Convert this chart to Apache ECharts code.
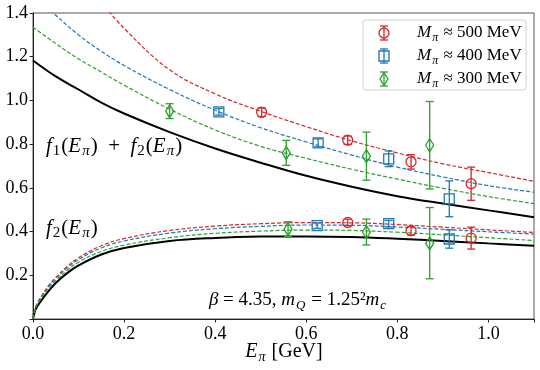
<!DOCTYPE html>
<html><head><meta charset="utf-8">
<script src="https://cdn.jsdelivr.net/npm/echarts@6/dist/echarts.min.js"></script>
<style>html,body{margin:0;padding:0;background:#fff}#c{width:540px;height:370px}</style>
</head><body><div id="c"></div>
<script>
// ---- fit curves ----
const E_UP = [0, 0.05, 0.1, 0.15, 0.2, 0.3, 0.4, 0.5, 0.6, 0.7, 0.8, 0.9, 1.0, 1.1];
const sum_black = [1.183, 1.11, 1.05, 0.99, 0.94, 0.855, 0.78, 0.715, 0.655, 0.605, 0.562, 0.528, 0.497, 0.466];
const sum_green = [1.335, 1.26, 1.19, 1.13, 1.07, 0.96, 0.865, 0.79, 0.735, 0.685, 0.64, 0.598, 0.56, 0.528];
const E_UP_BLUE = [0, 0.05, 0.1, 0.15, 0.2, 0.3, 0.4, 0.5, 0.6, 0.7, 0.8, 0.9, 1.0, 1.1];
const sum_blue = [1.49, 1.39, 1.30, 1.225, 1.16, 1.05, 0.955, 0.875, 0.81, 0.75, 0.695, 0.65, 0.61, 0.58];
const E_UP_RED = [0.15, 0.2, 0.3, 0.4, 0.5, 0.6, 0.7, 0.8, 0.9, 1.0, 1.1];
const sum_red = [1.45, 1.33, 1.14, 1.03, 0.95, 0.88, 0.815, 0.76, 0.71, 0.67, 0.63];

const E_LO = [0, 0.005, 0.01, 0.02, 0.035, 0.05, 0.075, 0.1, 0.15, 0.2, 0.3, 0.4, 0.5, 0.6, 0.7, 0.8, 0.9, 1.0, 1.1];
const f2_black = [0, 0.04, 0.06, 0.09, 0.13, 0.165, 0.21, 0.245, 0.295, 0.325, 0.357, 0.371, 0.377, 0.378, 0.375, 0.367, 0.357, 0.346, 0.335];
const f2_red   = [0, 0.05, 0.075, 0.11, 0.155, 0.19, 0.24, 0.28, 0.335, 0.368, 0.405, 0.425, 0.436, 0.441, 0.44, 0.432, 0.42, 0.408, 0.396];
const f2_blue  = [0, 0.048, 0.072, 0.105, 0.15, 0.185, 0.233, 0.272, 0.325, 0.357, 0.393, 0.413, 0.424, 0.43, 0.429, 0.421, 0.41, 0.399, 0.388];
const f2_green = [0, 0.045, 0.068, 0.1, 0.143, 0.176, 0.222, 0.26, 0.309, 0.338, 0.372, 0.392, 0.402, 0.407, 0.405, 0.397, 0.385, 0.372, 0.359];

// ---- lattice data points: E, value, error ----
const red_up_E = [0.502, 0.691, 0.830, 0.962];
const red_up_v = [0.946, 0.818, 0.719, 0.619];
const red_up_e = [0.02, 0.019, 0.033, 0.076];
const red_lo_E = [0.691, 0.830, 0.962];
const red_lo_v = [0.442, 0.404, 0.370];
const red_lo_e = [0.015, 0.019, 0.05];

const blue_up_E = [0.408, 0.626, 0.781, 0.914];
const blue_up_v = [0.948, 0.806, 0.733, 0.550];
const blue_up_e = [0.015, 0.018, 0.036, 0.082];
const blue_lo_E = [0.624, 0.781, 0.914];
const blue_lo_v = [0.427, 0.436, 0.366];
const blue_lo_e = [0.012, 0.015, 0.042];

const green_up_E = [0.300, 0.556, 0.732, 0.871];
const green_up_v = [0.951, 0.760, 0.745, 0.795];
const green_up_e = [0.034, 0.057, 0.11, 0.2];
const green_lo_E = [0.560, 0.732, 0.871];
const green_lo_v = [0.411, 0.398, 0.347];
const green_lo_e = [0.034, 0.059, 0.163];

const xTicks = [0, 0.2, 0.4, 0.6, 0.8, 1.0];
const yTicks = [0.2, 0.4, 0.6, 0.8, 1.0, 1.2, 1.4];
const legendLabels = ['500', '400', '300'];

const RED = '#d62728', BLUE = '#1f77b4', GREEN = '#2ca02c';
const FONT = 'Liberation Serif';

function zip(xs, ys) { return xs.map((x, i) => [x, ys[i]]); }
function zip3(xs, ys, es) { return xs.map((x, i) => [x, ys[i], es[i]]); }

function marker(kind, cx, cy, color) {
  const st = { fill: 'none', stroke: color, lineWidth: 1.3 };
  if (kind === 'circle') return { type: 'circle', shape: { cx, cy, r: 5 }, style: st };
  if (kind === 'rect') return { type: 'rect', shape: { x: cx - 5, y: cy - 5, width: 10, height: 10 }, style: st };
  return { type: 'polygon', shape: { points: [[cx, cy - 6.5], [cx + 4, cy], [cx, cy + 6.5], [cx - 4, cy]] }, style: st };
}
function errbar(cx, yTop, yBot, color) {
  const st = { stroke: color, lineWidth: 1.3 };
  return [
    { type: 'line', shape: { x1: cx, y1: yTop, x2: cx, y2: yBot }, style: st },
    { type: 'line', shape: { x1: cx - 4, y1: yTop, x2: cx + 4, y2: yTop }, style: st },
    { type: 'line', shape: { x1: cx - 4, y1: yBot, x2: cx + 4, y2: yBot }, style: st }
  ];
}
function makeRender(kind, color) {
  return function (params, api) {
    const x = api.value(0), y = api.value(1), e = api.value(2);
    const c = api.coord([x, y]);
    const t = api.coord([x, y + e]);
    const b = api.coord([x, y - e]);
    return { type: 'group', children: errbar(c[0], t[1], b[1], color).concat([marker(kind, c[0], c[1], color)]) };
  };
}

function lineSeries(data, color, dashed) {
  return {
    type: 'line', data, smooth: 0.4, showSymbol: false, symbol: 'none', silent: true, z: dashed ? 3 : 2,
    lineStyle: dashed ? { color, width: 1.2, type: [4, 2] } : { color: '#000', width: 2 }
  };
}
function pointSeries(data, kind, color) {
  return { type: 'custom', renderItem: makeRender(kind, color), data, z: 5, silent: true,
    encode: { x: 0, y: 1 } };
}

function makeRich(fs) {
  const sub = Math.round(fs * 0.7);
  return {
    i: { fontFamily: FONT, fontStyle: 'italic', fontSize: fs, lineHeight: fs + 5, fill: '#000' },
    r: { fontFamily: FONT, fontSize: fs, lineHeight: fs + 5, fill: '#000' },
    s: { fontFamily: FONT, fontStyle: 'italic', fontSize: sub, lineHeight: sub, verticalAlign: 'bottom', fill: '#000', padding: [0, 1, 0, 1] },
    sr: { fontFamily: FONT, fontSize: sub, lineHeight: sub, verticalAlign: 'bottom', fill: '#000', padding: [0, 1, 0, 1] }
  };
}
function txt(x, y, text, fs, align) {
  return { type: 'text', x, y, z: 10, silent: true,
    style: { text, rich: makeRich(fs), align: align || 'left', verticalAlign: 'middle', fill: '#000' } };
}

// legend graphic
const legendKinds = [['circle', RED], ['rect', BLUE], ['diamond', GREEN]];
const legendEls = [{ type: 'rect', shape: { x: 363, y: 20, width: 163, height: 70, r: 3 },
  style: { fill: 'rgba(255,255,255,0.85)', stroke: '#d0d0d0', lineWidth: 1 }, z: 8, silent: true }];
legendKinds.forEach((k, i) => {
  const cy = 33 + i * 23, cx = 384;
  errbar(cx, cy - 7, cy + 7, k[1]).concat([marker(k[0], cx, cy, k[1])]).forEach(el => { el.z = 9; el.silent = true; legendEls.push(el); });
  legendEls.push(txt(417, cy, '{i|M}{s|π}{r| ≈ ' + legendLabels[i] + ' MeV}', 17));
});

const chart = echarts.init(document.getElementById('c'), null, { renderer: 'canvas' });
chart.setOption({
  animation: false,
  backgroundColor: '#fff',
  grid: { left: 33, right: 6, top: 13, bottom: 51, show: true, borderColor: '#555', borderWidth: 1 },
  xAxis: {
    type: 'value', min: 0, max: 1.1, interval: 0.2,
    axisLine: { show: true, lineStyle: { color: '#222', width: 1 } },
    axisTick: { show: true, length: 3.5, lineStyle: { color: '#222' } },
    splitLine: { show: false },
    axisLabel: { margin: 6, fontFamily: FONT, fontSize: 18, color: '#000',
      formatter: v => xTicks.some(t => Math.abs(t - v) < 1e-6) ? v.toFixed(1) : '' }
  },
  yAxis: {
    type: 'value', min: 0, max: 1.4, interval: 0.2,
    axisLine: { show: true, lineStyle: { color: '#222', width: 1 } },
    axisTick: { show: true, length: 3.5, lineStyle: { color: '#222' } },
    splitLine: { show: false },
    axisLabel: { margin: 5, fontFamily: FONT, fontSize: 18, color: '#000',
      formatter: v => yTicks.some(t => Math.abs(t - v) < 1e-6) ? v.toFixed(1) : '' }
  },
  series: [
    lineSeries(zip(E_UP, sum_black), '#000', false),
    lineSeries(zip(E_LO, f2_black), '#000', false),
    lineSeries(zip(E_UP_RED, sum_red), RED, true),
    lineSeries(zip(E_UP_BLUE, sum_blue), BLUE, true),
    lineSeries(zip(E_UP, sum_green), GREEN, true),
    lineSeries(zip(E_LO, f2_red), RED, true),
    lineSeries(zip(E_LO, f2_blue), BLUE, true),
    lineSeries(zip(E_LO, f2_green), GREEN, true),
    pointSeries(zip3(red_up_E, red_up_v, red_up_e).concat(zip3(red_lo_E, red_lo_v, red_lo_e)), 'circle', RED),
    pointSeries(zip3(blue_up_E, blue_up_v, blue_up_e).concat(zip3(blue_lo_E, blue_lo_v, blue_lo_e)), 'rect', BLUE),
    pointSeries(zip3(green_up_E, green_up_v, green_up_e).concat(zip3(green_lo_E, green_lo_v, green_lo_e)), 'diamond', GREEN)
  ],
  graphic: legendEls.concat([
    txt(46, 146, '{i|f}{sr|1}{r|(}{i|E}{s|π}{r|)\u2002+\u2002}{i|f}{sr|2}{r|(}{i|E}{s|π}{r|)}', 21),
    txt(46, 228, '{i|f}{sr|2}{r|(}{i|E}{s|π}{r|)}', 21),
    txt(298, 300, '{i|β}{r| = 4.35, }{i|m}{s|Q}{r| = 1.25²}{i|m}{s|c}', 19, 'center'),
    txt(284, 352, '{i|E}{s|π}{r| [GeV]}', 20, 'center')
  ])
});
</script>
</body></html>
